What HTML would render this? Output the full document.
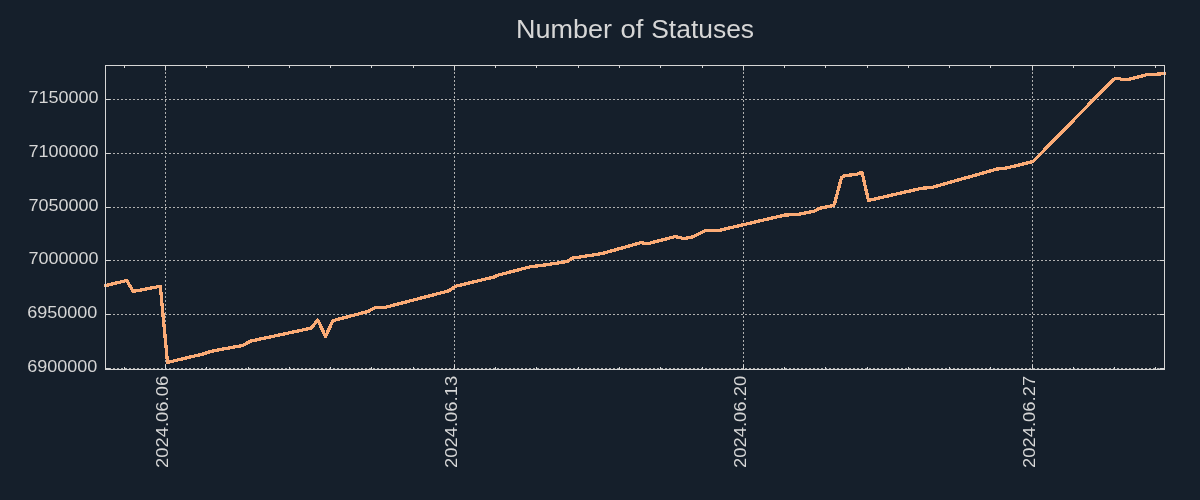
<!DOCTYPE html>
<html><head><meta charset="utf-8"><style>
html,body{margin:0;padding:0;background:#151f2b;width:1200px;height:500px;overflow:hidden}
svg{display:block;will-change:transform}
.g{stroke:#b0b0b0;stroke-width:1;stroke-dasharray:2 2;fill:none}
.t{font-family:"Liberation Sans",sans-serif;font-size:16.8px;fill:#d6d6d6}
.title{font-family:"Liberation Sans",sans-serif;font-size:25.4px;fill:#d6d6d6}
</style></head><body>
<svg width="1200" height="500" viewBox="0 0 1200 500">
<line x1="105" y1="99.5" x2="1165" y2="99.5" class="g"/>
<line x1="105" y1="153.5" x2="1165" y2="153.5" class="g"/>
<line x1="105" y1="207.5" x2="1165" y2="207.5" class="g"/>
<line x1="105" y1="260.5" x2="1165" y2="260.5" class="g"/>
<line x1="105" y1="314.5" x2="1165" y2="314.5" class="g"/>
<line x1="105" y1="368.5" x2="1165" y2="368.5" class="g"/>
<line x1="165.5" y1="66" x2="165.5" y2="369" class="g" stroke-dashoffset="2"/>
<line x1="454.5" y1="66" x2="454.5" y2="369" class="g" stroke-dashoffset="2"/>
<line x1="743.5" y1="66" x2="743.5" y2="369" class="g" stroke-dashoffset="2"/>
<line x1="1032.5" y1="66" x2="1032.5" y2="369" class="g" stroke-dashoffset="2"/>
<path d="M104.20,285.90 L126.80,280.50 L133.20,291.40 L160.30,286.30 L167.50,362.40 L203.00,354.00 L211.00,351.30 L242.50,345.50 L251.00,341.00 L311.00,328.20 L317.80,320.00 L325.50,336.50 L332.80,321.00 L336.00,319.80 L368.00,311.50 L375.00,307.60 L385.00,307.40 L449.00,290.80 L455.50,286.30 L494.00,277.00 L497.50,275.30 L531.00,266.60 L542.00,265.40 L567.50,261.50 L572.00,258.20 L602.00,253.60 L641.00,242.60 L647.00,243.90 L675.00,236.60 L683.80,238.50 L692.50,237.00 L705.50,230.60 L720.00,230.20 L785.00,215.00 L797.50,214.50 L814.50,211.00 L819.00,208.40 L833.50,205.60 L835.00,202.00 L841.50,177.50 L844.50,175.60 L856.50,174.40 L862.00,172.30 L868.50,200.50 L921.00,188.40 L932.50,187.30 L997.00,169.00 L1006.50,168.00 L1033.00,161.60 L1112.90,79.90 L1115.50,78.30 L1119.30,78.40 L1121.50,79.60 L1127.30,79.70 L1147.30,74.60 L1160.70,74.00 L1162.50,73.30 L1165.70,73.20" fill="none" stroke="#fbab76" stroke-width="3.3" stroke-linejoin="round" stroke-linecap="butt" shape-rendering="crispEdges"/>
<rect x="105.5" y="65.5" width="1059.0" height="304.0" fill="none" stroke="#d6d6d6" stroke-width="1"/>
<path d="M105.5,99.5h5M1164.5,99.5h-5M105.5,153.5h5M1164.5,153.5h-5M105.5,207.5h5M1164.5,207.5h-5M105.5,260.5h5M1164.5,260.5h-5M105.5,314.5h5M1164.5,314.5h-5M105.5,368.5h5M1164.5,368.5h-5M165.5,369.5v-5M165.5,65.5v5M454.5,369.5v-5M454.5,65.5v5M743.5,369.5v-5M743.5,65.5v5M1032.5,369.5v-5M1032.5,65.5v5M124.5,369.5v-2.5M124.5,65.5v2.5M165.5,369.5v-2.5M165.5,65.5v2.5M206.5,369.5v-2.5M206.5,65.5v2.5M248.5,369.5v-2.5M248.5,65.5v2.5M289.5,369.5v-2.5M289.5,65.5v2.5M330.5,369.5v-2.5M330.5,65.5v2.5M371.5,369.5v-2.5M371.5,65.5v2.5M413.5,369.5v-2.5M413.5,65.5v2.5M454.5,369.5v-2.5M454.5,65.5v2.5M495.5,369.5v-2.5M495.5,65.5v2.5M536.5,369.5v-2.5M536.5,65.5v2.5M578.5,369.5v-2.5M578.5,65.5v2.5M619.5,369.5v-2.5M619.5,65.5v2.5M660.5,369.5v-2.5M660.5,65.5v2.5M702.5,369.5v-2.5M702.5,65.5v2.5M743.5,369.5v-2.5M743.5,65.5v2.5M784.5,369.5v-2.5M784.5,65.5v2.5M825.5,369.5v-2.5M825.5,65.5v2.5M867.5,369.5v-2.5M867.5,65.5v2.5M908.5,369.5v-2.5M908.5,65.5v2.5M949.5,369.5v-2.5M949.5,65.5v2.5M990.5,369.5v-2.5M990.5,65.5v2.5M1032.5,369.5v-2.5M1032.5,65.5v2.5M1073.5,369.5v-2.5M1073.5,65.5v2.5M1114.5,369.5v-2.5M1114.5,65.5v2.5M1155.5,369.5v-2.5M1155.5,65.5v2.5" stroke="#d6d6d6" stroke-width="1" fill="none"/>
<text x="98.5" y="102.7" text-anchor="end" class="t" textLength="70.1" lengthAdjust="spacingAndGlyphs">7150000</text>
<text x="98.5" y="156.7" text-anchor="end" class="t" textLength="70.1" lengthAdjust="spacingAndGlyphs">7100000</text>
<text x="98.5" y="210.7" text-anchor="end" class="t" textLength="70.1" lengthAdjust="spacingAndGlyphs">7050000</text>
<text x="98.5" y="263.7" text-anchor="end" class="t" textLength="70.1" lengthAdjust="spacingAndGlyphs">7000000</text>
<text x="97.4" y="317.7" text-anchor="end" class="t" textLength="70.1" lengthAdjust="spacingAndGlyphs">6950000</text>
<text x="97.4" y="371.7" text-anchor="end" class="t" textLength="70.1" lengthAdjust="spacingAndGlyphs">6900000</text>
<text transform="translate(168.3,467.9) rotate(-90)" text-anchor="start" class="t" textLength="92.05" lengthAdjust="spacingAndGlyphs">2024.06.06</text>
<text transform="translate(457.3,467.9) rotate(-90)" text-anchor="start" class="t" textLength="92.05" lengthAdjust="spacingAndGlyphs">2024.06.13</text>
<text transform="translate(746.3,467.9) rotate(-90)" text-anchor="start" class="t" textLength="92.05" lengthAdjust="spacingAndGlyphs">2024.06.20</text>
<text transform="translate(1035.3,467.9) rotate(-90)" text-anchor="start" class="t" textLength="92.05" lengthAdjust="spacingAndGlyphs">2024.06.27</text>
<text x="516.00" y="38.1" class="title" textLength="95.98" lengthAdjust="spacingAndGlyphs">Number</text>
<text x="620.46" y="38.1" class="title" textLength="22.85" lengthAdjust="spacingAndGlyphs">of</text>
<text x="651.25" y="38.1" class="title" textLength="102.83" lengthAdjust="spacingAndGlyphs">Statuses</text>
</svg>
</body></html>
